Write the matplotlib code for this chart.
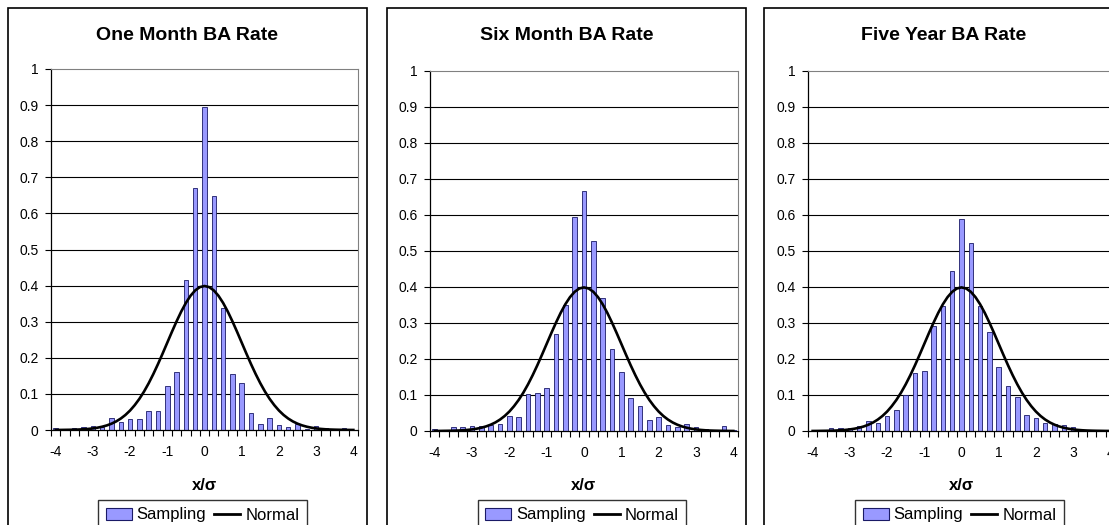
import matplotlib
matplotlib.use("Agg")
import matplotlib.pyplot as plt
from matplotlib.patches import Patch, Rectangle
from matplotlib.lines import Line2D
import numpy as np

plt.rcParams['font.family'] = ['Liberation Sans', 'DejaVu Sans']
plt.rcParams['axes.unicode_minus'] = False

# bin centres (x / sigma), 0.25 wide
bins = [-4.0, -3.75, -3.5, -3.25, -3.0, -2.75, -2.5, -2.25, -2.0, -1.75, -1.5,
        -1.25, -1.0, -0.75, -0.5, -0.25, 0.0, 0.25, 0.5, 0.75, 1.0, 1.25, 1.5,
        1.75, 2.0, 2.25, 2.5, 2.75, 3.0, 3.25, 3.5, 3.75, 4.0]

one_month = [0.006, 0.002, 0.005, 0.008, 0.011, 0.007, 0.032, 0.022, 0.030, 0.030, 0.052,
             0.054, 0.122, 0.162, 0.415, 0.670, 0.895, 0.648, 0.337, 0.155, 0.131, 0.047, 0.017,
             0.032, 0.015, 0.009, 0.017, 0.003, 0.011, 0.005, 0.002, 0.005, 0.001]

six_month = [0.006, 0.002, 0.011, 0.011, 0.014, 0.013, 0.017, 0.019, 0.043, 0.040, 0.104,
             0.106, 0.120, 0.269, 0.350, 0.594, 0.666, 0.529, 0.370, 0.228, 0.163, 0.092, 0.070,
             0.030, 0.039, 0.017, 0.011, 0.020, 0.011, 0.005, 0.003, 0.014, 0.002]

five_year = [0.001, 0.001, 0.008, 0.007, 0.008, 0.013, 0.029, 0.021, 0.043, 0.057, 0.100,
             0.160, 0.168, 0.293, 0.347, 0.444, 0.590, 0.522, 0.346, 0.275, 0.177, 0.124, 0.094,
             0.045, 0.037, 0.023, 0.020, 0.017, 0.012, 0.003, 0.004, 0.001, 0.0]

# normal curve as drawn on each chart, every 0.125 from -4 to 4
curve_x = np.arange(-4, 4.001, 0.125)
normal_half = [0.0001, 0.0002, 0.0004, 0.0006, 0.0009, 0.0013, 0.0020, 0.0030, 0.0044,
               0.0064, 0.0091, 0.0127, 0.0175, 0.0237, 0.0317, 0.0417, 0.0540, 0.0689,
               0.0863, 0.1065, 0.1295, 0.1550, 0.1826, 0.2119, 0.2420, 0.2721, 0.3011,
               0.3282, 0.3521, 0.3719, 0.3867, 0.3958]
normal = normal_half + [0.3989] + normal_half[::-1]

titles = ["One Month BA Rate", "Six Month BA Rate", "Five Year BA Rate"]
series = [one_month, six_month, five_year]

W, H = 1109, 525
fig = plt.figure(figsize=(W / 100, H / 100), dpi=100)

def fx(p):
    return p / W

def fy(p):
    return 1 - p / H

# panel frame left/right, plot area left/right/top/bottom (pixels)
frames = [(8, 367), (387, 746), (764, 1123)]
areas = [(51, 358, 69, 430), (430, 738, 71, 431), (808, 1115, 71, 431)]

bar_col = '#9999FF'
edge_col = '#1a1a66'

for i in range(3):
    fl, fr = frames[i]
    fig.patches.append(Rectangle((fx(fl), fy(535)), fx(fr - fl), (535 - 8) / H,
                                 transform=fig.transFigure, fill=False,
                                 edgecolor='black', lw=1.2))
    l, r, t, b = areas[i]
    ax = fig.add_axes([fx(l), fy(b), fx(r - l), (b - t) / H])
    ax.bar(bins, series[i], width=0.12, color=bar_col, edgecolor=edge_col, lw=0.6, zorder=3)
    ax.plot(curve_x, normal, color='black', lw=1.9, zorder=4)
    ax.set_xlim(-4.125, 4.125)
    ax.set_ylim(0, 1)
    ax.set_yticks(np.arange(0, 1.01, 0.1))
    ax.set_yticklabels(['0', '0.1', '0.2', '0.3', '0.4', '0.5', '0.6', '0.7', '0.8', '0.9', '1'])
    ax.set_xticks(range(-4, 5))
    ax.set_xticks(np.arange(-4.125, 4.2, 0.25), minor=True)
    ax.tick_params(axis='x', which='major', length=0, pad=11, labelsize=10)
    ax.tick_params(axis='x', which='minor', length=4, width=0.8, direction='out')
    ax.tick_params(axis='y', length=4, width=0.8, direction='out', pad=5, labelsize=10)
    for y in np.arange(0.1, 0.95, 0.1):
        ax.axhline(y, color='black', lw=0.8, zorder=1)
    ax.spines['top'].set_color('#808080')
    ax.spines['right'].set_color('#808080')
    ax.spines['left'].set_linewidth(0.9)
    ax.spines['bottom'].set_linewidth(0.9)
    ax.spines['bottom'].set_zorder(5)

    fig.text(fx((fl + fr) / 2), fy(36), titles[i], ha='center', va='center',
             fontsize=14, fontweight='bold')
    fig.text(fx((l + r) / 2), fy(485), 'x/σ', ha='center', va='center',
             fontsize=12, fontweight='bold')

    handles = [Patch(facecolor=bar_col, edgecolor=edge_col, lw=0.8),
               Line2D([], [], color='black', lw=2)]
    leg = fig.legend(handles, ['Sampling', 'Normal'], loc='upper center',
                     bbox_to_anchor=(fx((l + r) / 2 - 2), fy(500)), ncol=2,
                     frameon=True, fancybox=False, fontsize=12, borderaxespad=0,
                     handlelength=1.55, handletextpad=0.3, columnspacing=0.5,
                     borderpad=0.45)
    leg.get_frame().set_edgecolor('black')
    leg.get_frame().set_linewidth(1.0)

fig.savefig('out.png', dpi=100)
